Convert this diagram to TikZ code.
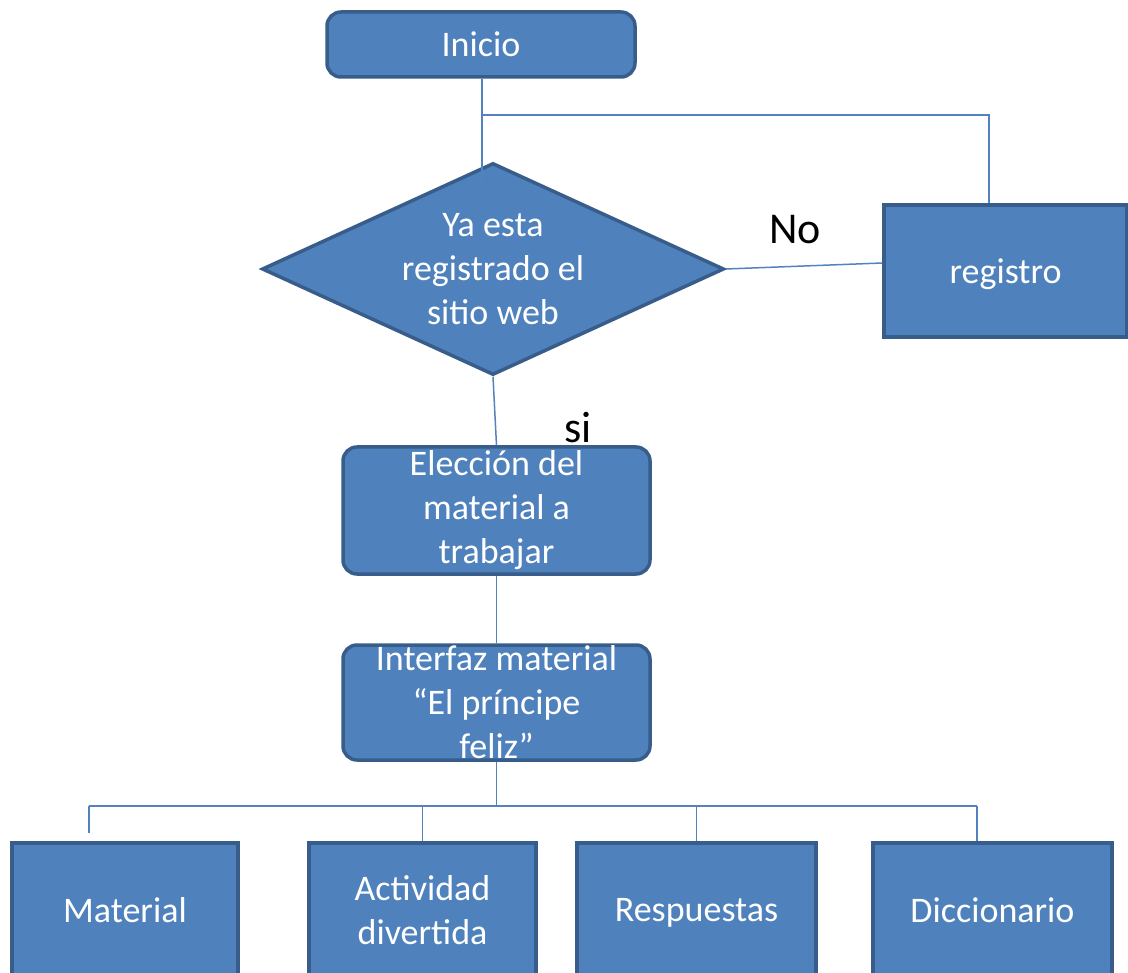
\documentclass[tikz,border=0pt]{standalone}
\usepackage{fontspec}
\setmainfont{Carlito}
\usetikzlibrary{shapes.geometric}
\definecolor{flowfill}{RGB}{79,129,189}
\definecolor{flowedge}{RGB}{56,93,138}
\definecolor{flowline}{RGB}{84,130,190}
\begin{document}
\begin{tikzpicture}[x=1pt,y=-1pt
,blk/.style={draw=flowedge,fill=flowfill,line width=3.5pt,inner sep=0pt}
,rnd/.style={blk,rectangle,rounded corners=14pt}
,sqr/.style={blk,rectangle}
,dia/.style={blk,diamond,aspect=2.18,minimum width=462pt,minimum height=212pt}
,txt/.style={text=white,align=center,font=\fontsize{36}{44}\selectfont}
,one/.style={txt,text depth=0pt}
,ans/.style={text=black,font=\fontsize{44}{53}\selectfont}
,conn/.style={draw=flowline,line width=1.5pt}
]
\useasboundingbox (0,0) rectangle (1128,973);
\clip (0,0) rectangle (1128,973);
% boxes
\node[rnd,minimum width=308pt,minimum height=65pt] (ini) at (481,44.5) {};
\node[dia] (dec) at (493,269) {};
\node[sqr,minimum width=243pt,minimum height=132pt] (reg) at (1005.5,271) {};
\node[rnd,minimum width=307pt,minimum height=127pt] (elec) at (496.5,510.5) {};
\node[rnd,minimum width=307pt,minimum height=115pt] (intf) at (496.5,702.5) {};
\node[sqr,minimum width=226pt,minimum height=134pt] (mat) at (125,910) {};
\node[sqr,minimum width=227pt,minimum height=134pt] (act) at (422.5,910) {};
\node[sqr,minimum width=239pt,minimum height=134pt] (res) at (696.5,910) {};
\node[sqr,minimum width=239pt,minimum height=134pt] (dic) at (992.5,910) {};
% connectors
\coordinate (jn) at (482,115);
\coordinate (rj) at (989,115);
\coordinate (busL) at (89,806);
\coordinate (busR) at (977,806);
\draw[conn] (ini.south -| jn) -- ([yshift=-22pt]dec.north -| jn);
\draw[conn] (jn) -- (rj) -- (rj |- reg.north);
\draw[conn] (dec.east) -- ([yshift=8pt]reg.west);
\draw[conn] (dec.south) -- (elec.north);
\draw[conn] (elec) -- (intf);
\draw[conn] (intf.south) -- (intf.south |- busL);
\draw[conn] (busL) -- (busR);
\draw[conn] (busL) -- ++(0,27);
\draw[conn] (act.north) -- (act.north |- busL);
\draw[conn] (res.north) -- (res.north |- busL);
\draw[conn] (busR) -- (busR |- dic.north);
% texts
\node[one] at (ini) {Inicio};
\node[txt] at (dec) {Ya esta\\registrado el\\sitio web};
\node[one] at (reg) {registro};
\node[txt] at (elec) {Elección del\\material a\\trabajar};
\node[txt] at (intf) {Interfaz material\\“El príncipe\\feliz”};
\node[one] at (mat) {Material};
\node[txt] at (act) {Actividad\\divertida};
\node[one] at (res) {Respuestas};
\node[one] at (dic) {Diccionario};
\node[ans] (no) at (795,230) {No};
\node[ans] (si) at (578,428) {si};
\end{tikzpicture}
\end{document}
